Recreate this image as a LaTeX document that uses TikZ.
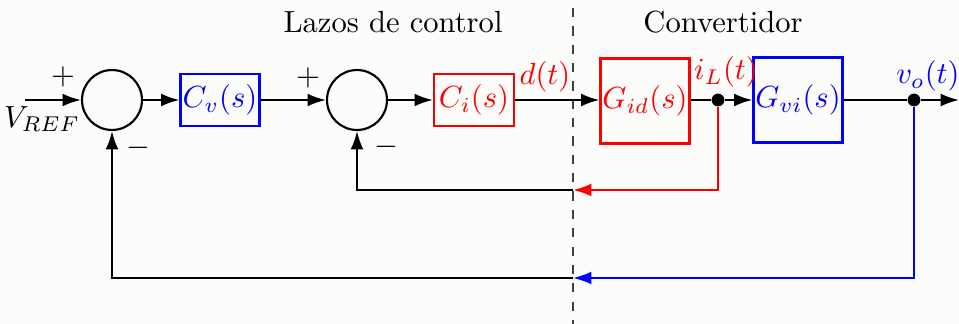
\documentclass[tikz,border=0pt]{standalone}
\usetikzlibrary{arrows.meta}
\definecolor{bgc}{RGB}{252,252,250}
\begin{document}
\begin{tikzpicture}[x=0.327pt,y=-0.327pt,
 sumnode/.style={draw,circle,line width=0.7pt,minimum size=19.6pt,inner sep=0pt},
 blockbox/.style={draw,line width=0.7pt,rectangle,inner sep=0pt},
 sig/.style={line width=0.7pt,-{Latex[length=6pt,width=4.2pt]}},
 wire/.style={line width=0.7pt},
 jdot/.style={circle,fill,inner sep=0pt,minimum size=4.2pt},
 lbl/.style={inner sep=0pt}]
\fill[bgc] (0,0) rectangle (959,324);
\useasboundingbox (0,0) rectangle (959,324);
% dashed divider
\coordinate (dtop) at (573,8);
\coordinate (dbot) at (573,324);
\draw[line width=0.7pt,dashed,black!75] (dtop) -- (dbot);
% titles
\node[lbl] (t1) at (393,22) {Lazos de control};
\node[lbl] (t2) at (723,22) {Convertidor};
% nodes
\coordinate (in) at (25,100);
\node[sumnode] (s1) at (112,100) {};
\node[blockbox,blue,minimum width=25.8pt,minimum height=17pt] (cv) at (220,100) {$C_v(s)$};
\node[sumnode] (s2) at (357,100) {};
\node[blockbox,red,minimum width=26.2pt,minimum height=16.8pt] (ci) at (474,100) {$C_i(s)$};
\node[blockbox,red,minimum width=29.1pt,minimum height=27.8pt] (gid) at (645,101) {$G_{id}(s)$};
\node[jdot] (jL) at (718,100) {};
\node[blockbox,blue,minimum width=29.1pt,minimum height=27.8pt] (gvi) at (798,100) {$G_{vi}(s)$};
\node[jdot] (jo) at (914,100) {};
\coordinate (out) at (959,100);
\coordinate (rc) at (573,190);
\coordinate (bc) at (573,278);
% labels
\node[lbl] (vref) at (42,119) {$V_{REF}$};
\node[lbl] (p1) at (63,77) {$+$};
\node[lbl] (m1) at (138,148) {$-$};
\node[lbl] (p2) at (308,78) {$+$};
\node[lbl] (m2) at (386,147) {$-$};
\node[lbl,red] (dl) at (545,77) {$d(t)$};
\node[lbl,red] (il) at (726,72) {$i_L(t)$};
\node[lbl,blue] (vl) at (928,76) {$v_o(t)$};
% connectors
\draw[sig] (in) -- (s1.west);
\draw[sig] (s1.east) -- (cv.west);
\draw[sig] (cv.east) -- (s2.west);
\draw[sig] (s2.east) -- (ci.west);
\draw[sig] (ci.east) -- (gid.west |- ci.east);
\draw[wire] (gid.east |- jL) -- (jL);
\draw[sig] (jL) -- (gvi.west);
\draw[wire] (gvi.east) -- (jo);
\draw[sig] (jo) -- (out);
\draw[sig,red] (jL) |- (rc);
\draw[sig] (rc) -| (s2.south);
\draw[sig,blue] (jo) |- (bc);
\draw[sig] (bc) -| (s1.south);
\end{tikzpicture}
\end{document}
